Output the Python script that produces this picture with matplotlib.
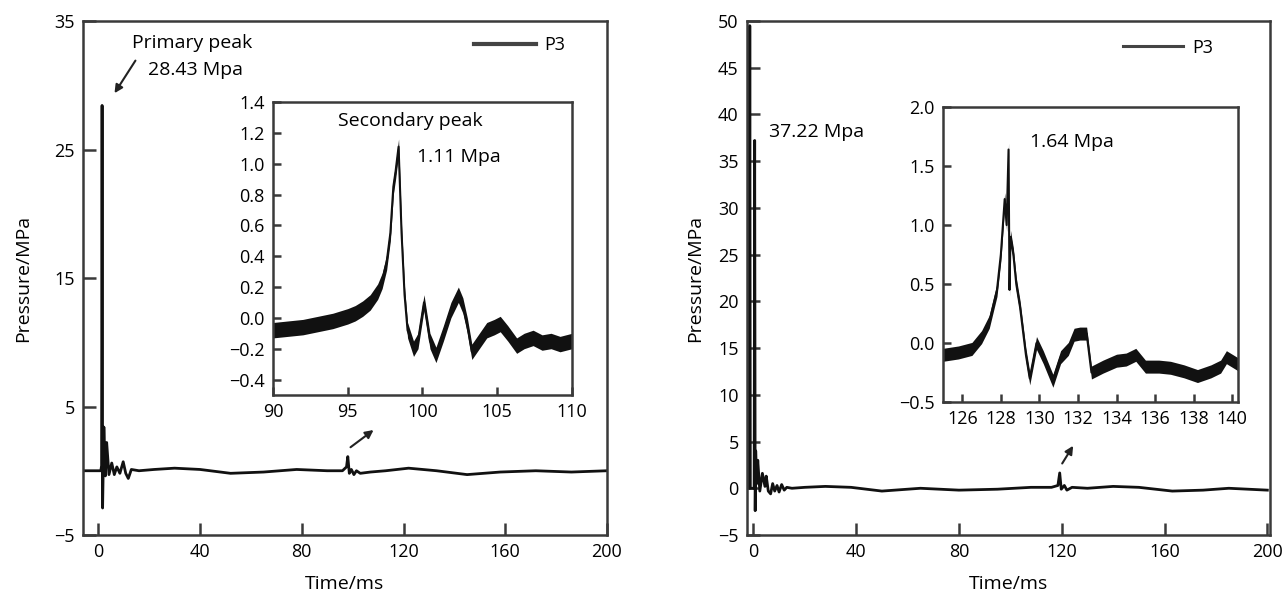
import matplotlib
matplotlib.use("Agg")
import matplotlib.pyplot as plt
import numpy as np

plt.rcParams['font.family'] = ['Open Sans', 'DejaVu Sans']

# left chart, full record (time in ms, pressure in MPa)
left_t = [-6, 1.0, 1.3, 1.5, 1.7, 2.2, 2.8, 3.3, 4.2, 5.3,
          6.3, 7.3, 8.5, 9.8, 10.8, 11.8, 13.0, 16, 22, 30,
          40, 52, 65, 78, 90, 96, 97.6, 98.1, 98.7, 99.5,
          100.5, 101.5, 103, 107, 113, 122, 133, 145, 158, 172,
          186, 200]
left_p = [0, 0, 0.4, 28.43, -2.9, 3.4, -0.4, 2.2, -0.3, 0.6,
          -0.3, 0.3, -0.2, 0.7, -0.2, -0.6, 0.1, 0, 0.1, 0.2,
          0.1, -0.2, -0.1, 0.1, 0.0, 0.0, 0.3, 1.1, -0.2, 0.1,
          -0.3, 0.0, -0.2, -0.1, 0.0, 0.2, 0.0, -0.3, -0.1, 0.0,
          -0.1, 0.0]

# left chart, zoom on the secondary peak
left_zoom_t = [90, 91, 92, 93, 94, 95, 95.5, 96, 96.5, 97,
               97.3, 97.6, 97.85, 98.05, 98.2, 98.4, 98.6, 98.8, 99.0, 99.4,
               99.7, 100.1, 100.5, 100.9, 101.4, 101.9, 102.4, 102.7, 103.0, 103.3,
               103.8, 104.3, 104.8, 105.2, 105.7, 106.3, 106.8, 107.4, 108.0, 108.6,
               109.2, 110]
left_zoom_p = [-0.08, -0.07, -0.06, -0.04, -0.02, 0.01, 0.03, 0.06, 0.10, 0.17,
               0.24, 0.36, 0.55, 0.85, 0.95, 1.11, 0.55, 0.15, -0.08, -0.20,
               -0.15, 0.10, -0.15, -0.24, -0.10, 0.05, 0.15, 0.08, -0.05, -0.22,
               -0.15, -0.08, -0.06, -0.04, -0.10, -0.18, -0.15, -0.13, -0.16, -0.15,
               -0.17, -0.15]

# right chart, full record
right_t = [-2.5, -1.6, -1.4, -1.2, 0.3, 0.5, 0.7, 0.9, 1.3, 1.7,
           2.5, 3.5, 4.5, 5.0, 5.8, 6.7, 7.5, 8.3, 9.2, 10.0,
           11.0, 12.0, 13.0, 15, 20, 28, 38, 50, 65, 80,
           95, 108, 116, 118.5, 119.2, 119.8, 121, 122, 124, 130,
           140, 150, 163, 175, 185, 200]
right_p = [0, 0, 49.5, 0, 0, 37.22, -2.4, 4.0, 0.5, 3.0,
           -0.3, 1.6, 0.2, 1.3, -0.3, -0.6, 0.5, -0.3, 0.3, -0.4,
           0.4, -0.2, 0.1, 0, 0.1, 0.2, 0.1, -0.3, 0.0, -0.2,
           -0.1, 0.1, 0.1, 0.3, 1.64, -0.1, 0.3, -0.2, 0.1, 0.0,
           0.2, 0.1, -0.3, -0.2, 0.0, -0.2]

# right chart, zoom on the secondary peak
right_zoom_t = [125, 125.8, 126.5, 127.0, 127.4, 127.8, 128.0, 128.2, 128.3, 128.4,
                128.45, 128.5, 128.65, 128.8, 129.0, 129.3, 129.5, 129.85, 130.2, 130.7,
                131.1, 131.5, 131.8, 132.1, 132.45, 132.7, 133.3, 134.0, 134.5, 135.0,
                135.5, 136.2, 136.8, 137.5, 138.2, 138.9, 139.4, 139.7, 140.3]
right_zoom_p = [-0.10, -0.08, -0.05, 0.05, 0.18, 0.45, 0.75, 1.22, 1.0, 1.64,
                0.45, 0.9, 0.75, 0.5, 0.30, -0.10, -0.30, 0.0, -0.12, -0.32,
                -0.12, -0.05, 0.07, 0.08, 0.08, -0.25, -0.20, -0.15, -0.14, -0.10,
                -0.20, -0.20, -0.21, -0.24, -0.28, -0.24, -0.20, -0.12, -0.18]

LINE = '#111111'
SPINE = '#3a3a3a'
FS = 13


def style_axes(ax, ticklen):
    for s in ax.spines.values():
        s.set_color(SPINE)
        s.set_linewidth(1.8)
    ax.tick_params(direction='in', length=ticklen, width=1.8, color=SPINE,
                   labelsize=FS, top=False, right=False, pad=6)


# one decimal, with a real minus sign
one_dec = matplotlib.ticker.FuncFormatter(lambda v, pos: f'{v:.1f}'.replace('-', '\u2212'))

fig = plt.figure(figsize=(12.83, 6.02), dpi=100)

# ---- left chart
ax1 = fig.add_axes([0.0647, 0.1113, 0.4084, 0.8538])
ax1.plot(left_t, left_p, color=LINE, lw=2.0, label='P3')
ax1.set_xlim(-6, 200)
ax1.set_ylim(-5, 35)
ax1.set_xticks([0, 40, 80, 120, 160, 200])
ax1.set_yticks([-5, 5, 15, 25, 35])
style_axes(ax1, 9)
ax1.set_xlabel('Time/ms', fontsize=14, labelpad=10)
ax1.set_ylabel('Pressure/MPa', fontsize=14, labelpad=16)
ax1.text(36.8, 33.3, 'Primary peak', fontsize=14, ha='center', va='center')
ax1.text(19.5, 31.2, '28.43 Mpa', fontsize=14, ha='left', va='center')
ax1.annotate('', xy=(5.8, 29.2), xytext=(15.2, 32.1),
             arrowprops=dict(arrowstyle='-|>', color='#222222', lw=1.5, mutation_scale=12))
ax1.annotate('', xy=(109.1, 3.3), xytext=(98.3, 1.7),
             arrowprops=dict(arrowstyle='-|>', color='#222222', lw=1.5, mutation_scale=12))
leg = ax1.legend(loc='upper right', bbox_to_anchor=(0.935, 0.985), frameon=False,
                 fontsize=FS, handlelength=3.4, handletextpad=0.5, borderaxespad=0)
leg.get_lines()[0].set_linewidth(3)
leg.get_lines()[0].set_color('#444444')

ins1 = fig.add_axes([0.2128, 0.3439, 0.2330, 0.4867])
ins1.fill_between(left_zoom_t, np.array(left_zoom_p) - 0.05, np.array(left_zoom_p) + 0.05,
                  color=LINE, lw=0)
ins1.plot(left_zoom_t, left_zoom_p, color=LINE, lw=1.5)
ins1.set_xlim(90, 110)
ins1.set_ylim(-0.5, 1.4)
ins1.set_xticks([90, 95, 100, 105, 110])
ins1.set_yticks(np.round(np.arange(-0.4, 1.41, 0.2), 1))
ins1.yaxis.set_major_formatter(one_dec)
style_axes(ins1, 6)
ins1.text(99.2, 1.277, 'Secondary peak', fontsize=14, ha='center', va='center')
ins1.text(99.6, 1.04, '1.11 Mpa', fontsize=14, ha='left', va='center')

# ---- right chart
ax2 = fig.add_axes([0.5822, 0.1113, 0.4076, 0.8538])
ax2.plot(right_t, right_p, color=LINE, lw=2.0, label='P3')
ax2.set_xlim(-2.5, 201)
ax2.set_ylim(-5, 50)
ax2.set_xticks([0, 40, 80, 120, 160, 200])
ax2.set_yticks(np.arange(-5, 51, 5))
style_axes(ax2, 9)
ax2.set_xlabel('Time/ms', fontsize=14, labelpad=10)
ax2.set_ylabel('Pressure/MPa', fontsize=14, labelpad=10)
ax2.text(6.1, 38.1, '37.22 Mpa', fontsize=14, ha='left', va='center')
ax2.annotate('', xy=(125.0, 4.8), xytext=(119.6, 2.4),
             arrowprops=dict(arrowstyle='-|>', color='#222222', lw=1.5, mutation_scale=12))
leg2 = ax2.legend(loc='upper right', bbox_to_anchor=(0.905, 0.98), frameon=False,
                  fontsize=FS, handlelength=3.3, handletextpad=0.5, borderaxespad=0)
leg2.get_lines()[0].set_linewidth(2.2)
leg2.get_lines()[0].set_color('#444444')

ins2 = fig.add_axes([0.7350, 0.3322, 0.2299, 0.4900])
ins2.fill_between(right_zoom_t, np.array(right_zoom_p) - 0.055, np.array(right_zoom_p) + 0.055,
                  color=LINE, lw=0)
ins2.plot(right_zoom_t, right_zoom_p, color=LINE, lw=1.5)
ins2.set_xlim(125, 140.3)
ins2.set_ylim(-0.5, 2.0)
ins2.set_xticks(np.arange(126, 141, 2))
ins2.set_yticks([-0.5, 0.0, 0.5, 1.0, 1.5, 2.0])
ins2.yaxis.set_major_formatter(one_dec)
style_axes(ins2, 6)
ins2.text(129.5, 1.70, '1.64 Mpa', fontsize=14, ha='left', va='center')

fig.savefig('out.png', dpi=100)
